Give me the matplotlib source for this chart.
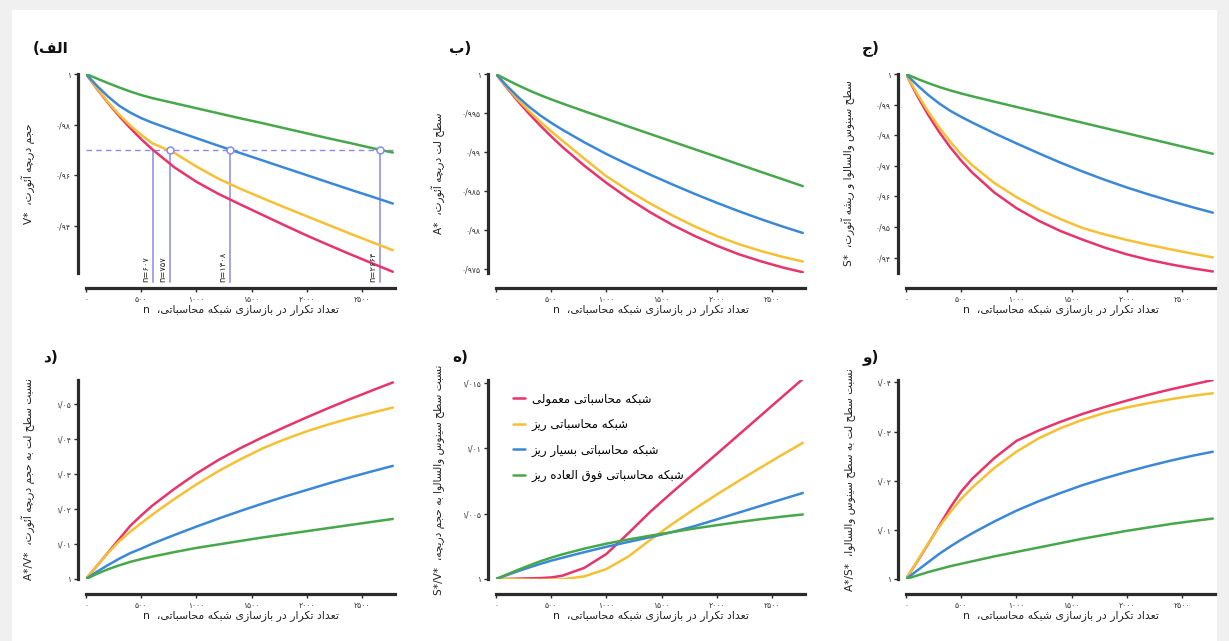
import numpy as np
import matplotlib
matplotlib.use("Agg")
import matplotlib.pyplot as plt
from matplotlib.patches import Rectangle

# ── داده‌ها (خوانده شده از شکل) ─────────────────────────────────────────────
n = [0, 100, 200, 300, 400, 500, 600, 800, 1000, 1200, 1400, 1600, 1800, 2000, 2200, 2400, 2600, 2780]

# الف) حجم دریچه آئورت V*
v_red = [1, 0.9941, 0.9886, 0.9834, 0.9787, 0.9743, 0.9703, 0.9632, 0.9575, 0.9527, 0.9485, 0.9444, 0.9403, 0.9363, 0.9325, 0.9288, 0.9252, 0.922]
v_yel = [1, 0.9943, 0.9889, 0.984, 0.9797, 0.976, 0.9727, 0.9689, 0.9635, 0.9587, 0.9547, 0.951, 0.9474, 0.9439, 0.9404, 0.9369, 0.9335, 0.9305]
v_blu = [1, 0.9953, 0.9911, 0.9875, 0.9848, 0.9826, 0.9808, 0.9777, 0.9747, 0.9717, 0.9688, 0.9659, 0.963, 0.9601, 0.9572, 0.9543, 0.9515, 0.9489]
v_grn = [1, 0.9982, 0.9964, 0.9947, 0.9931, 0.9917, 0.9905, 0.9885, 0.9865, 0.9845, 0.9825, 0.9806, 0.9786, 0.9766, 0.9746, 0.9727, 0.9707, 0.969]

# ب) سطح لت دریچه A*
a_red = [1, 0.9982, 0.9965, 0.9949, 0.9934, 0.992, 0.99067, 0.98825, 0.98605, 0.98405, 0.98225, 0.98065, 0.97925, 0.978, 0.9769, 0.976, 0.9752, 0.9746]
a_yel = [1, 0.9983, 0.9967, 0.99525, 0.9939, 0.99265, 0.99148, 0.98915, 0.9869, 0.98506, 0.98338, 0.98186, 0.98048, 0.97924, 0.9782, 0.97732, 0.97656, 0.97597]
a_blu = [1, 0.99845, 0.99705, 0.9958, 0.9947, 0.99375, 0.99287, 0.99125, 0.98975, 0.98838, 0.98708, 0.98584, 0.98464, 0.9835, 0.98242, 0.9814, 0.98044, 0.97963]
a_grn = [1, 0.99925, 0.99855, 0.9979, 0.9973, 0.99675, 0.99623, 0.99523, 0.99425, 0.99327, 0.9923, 0.99133, 0.99036, 0.9894, 0.98843, 0.98746, 0.9865, 0.98563]

# ج) سطح سینوس و ریشه S*
s_red = [1, 0.993, 0.9867, 0.9811, 0.9761, 0.9717, 0.9678, 0.9613, 0.9562, 0.9521, 0.9487, 0.9459, 0.9433, 0.9411, 0.9393, 0.9378, 0.9365, 0.9355]
s_yel = [1, 0.9936, 0.9878, 0.9826, 0.9779, 0.9737, 0.9702, 0.9644, 0.9598, 0.9559, 0.9526, 0.9497, 0.9476, 0.9458, 0.9442, 0.9427, 0.9413, 0.9401]
s_blu = [1, 0.9964, 0.9932, 0.9904, 0.988, 0.986, 0.98415, 0.98065, 0.97735, 0.97415, 0.97105, 0.96815, 0.96545, 0.96295, 0.96065, 0.95849, 0.95645, 0.95471]
s_grn = [1, 0.99845, 0.99705, 0.99578, 0.99465, 0.99365, 0.99272, 0.99096, 0.98924, 0.98752, 0.9858, 0.98408, 0.98236, 0.98064, 0.97892, 0.9772, 0.97548, 0.97393]

# د) A*/V*
av_red = [1, 1.0038, 1.0076, 1.0114, 1.0152, 1.0182, 1.021, 1.0258, 1.0302, 1.0341, 1.0375, 1.0406, 1.0435, 1.0463, 1.049, 1.0516, 1.0541, 1.0563]
av_yel = [1, 1.0038, 1.0075, 1.0108, 1.0135, 1.016, 1.0184, 1.0229, 1.0271, 1.0309, 1.0343, 1.0374, 1.04, 1.0423, 1.0443, 1.0461, 1.0477, 1.0491]
av_blu = [1, 1.0021, 1.004, 1.0058, 1.0074, 1.0087, 1.0101, 1.0126, 1.015, 1.0173, 1.0195, 1.0216, 1.0236, 1.0255, 1.0274, 1.0292, 1.0309, 1.0324]
av_grn = [1, 1.0015, 1.0028, 1.0039, 1.0049, 1.0057, 1.0064, 1.0077, 1.0089, 1.0099, 1.0109, 1.0119, 1.0128, 1.0137, 1.0146, 1.0155, 1.0164, 1.0172]

# ه) S*/V*
sv_red = [1, 1.00001, 1.00003, 1.00005, 1.00007, 1.00012, 1.00025, 1.00085, 1.00191, 1.0035, 1.00515, 1.00665, 1.0081, 1.00955, 1.01102, 1.01249, 1.01396, 1.01528]
sv_yel = [1, 0.99999, 0.99997, 0.99995, 0.99994, 0.99995, 0.99998, 1.0002, 1.00076, 1.00172, 1.003, 1.00422, 1.00536, 1.00645, 1.0075, 1.00852, 1.00952, 1.0104]
sv_blu = [1, 1.0003, 1.0006, 1.00088, 1.00115, 1.0014, 1.00162, 1.00205, 1.00246, 1.00283, 1.0032, 1.00359, 1.00404, 1.00455, 1.00507, 1.00559, 1.00611, 1.00657]
sv_grn = [1, 1.00035, 1.0007, 1.00103, 1.00135, 1.00163, 1.00188, 1.00232, 1.0027, 1.00302, 1.00331, 1.00359, 1.00386, 1.00411, 1.00435, 1.00457, 1.00477, 1.00493]

# و) A*/S*
as_red = [1, 1.0035, 1.0071, 1.0108, 1.0145, 1.0178, 1.0204, 1.0246, 1.0281, 1.0302, 1.032, 1.0336, 1.035, 1.0363, 1.0375, 1.0386, 1.0396, 1.0405]
as_yel = [1, 1.0036, 1.0072, 1.0106, 1.0136, 1.0163, 1.0186, 1.0226, 1.0259, 1.0286, 1.0307, 1.0324, 1.0338, 1.0349, 1.0358, 1.0366, 1.0373, 1.0378]
as_blu = [1, 1.0017, 1.0034, 1.0051, 1.0066, 1.008, 1.0093, 1.0117, 1.0139, 1.0158, 1.0175, 1.0191, 1.0205, 1.0218, 1.023, 1.0241, 1.0251, 1.0259]
as_grn = [1, 1.0007, 1.0014, 1.002, 1.0026, 1.0031, 1.0036, 1.0046, 1.0055, 1.0064, 1.0073, 1.0082, 1.009, 1.0098, 1.0105, 1.0112, 1.0118, 1.0123]

# خط‌های راهنما در نمودار الف
v_level = 0.97
n_cross = [607, 757, 1308, 2664]
n_cross_lbl = ["۶۰۷", "۷۵۷", "۱۳۰۸", "۲۶۶۴"]

series_names = ["شبکه محاسباتی معمولی", "شبکه محاسباتی ریز",
                "شبکه محاسباتی بسیار ریز", "شبکه محاسباتی فوق العاده ریز"]
colors = ["#e8336b", "#f7c033", "#3b88d8", "#46a84a"]

# ── شکل‌دهی ساده متن فارسی (matplotlib حروف را به هم نمی‌چسباند) ───────────
FORMS = {
    'ا': ('\uFE8D', '\uFE8E', None, None), 'آ': ('\uFE81', '\uFE82', None, None),
    'ئ': ('\uFE89', '\uFE8A', '\uFE8B', '\uFE8C'), 'ب': ('\uFE8F', '\uFE90', '\uFE91', '\uFE92'),
    'ت': ('\uFE95', '\uFE96', '\uFE97', '\uFE98'), 'ج': ('\uFE9D', '\uFE9E', '\uFE9F', '\uFEA0'),
    'ح': ('\uFEA1', '\uFEA2', '\uFEA3', '\uFEA4'), 'چ': ('\uFB7A', '\uFB7B', '\uFB7C', '\uFB7D'),
    'د': ('\uFEA9', '\uFEAA', None, None), 'ر': ('\uFEAD', '\uFEAE', None, None),
    'ز': ('\uFEAF', '\uFEB0', None, None), 'س': ('\uFEB1', '\uFEB2', '\uFEB3', '\uFEB4'),
    'ش': ('\uFEB5', '\uFEB6', '\uFEB7', '\uFEB8'), 'ط': ('\uFEC1', '\uFEC2', '\uFEC3', '\uFEC4'),
    'ع': ('\uFEC9', '\uFECA', '\uFECB', '\uFECC'), 'ف': ('\uFED1', '\uFED2', '\uFED3', '\uFED4'),
    'ق': ('\uFED5', '\uFED6', '\uFED7', '\uFED8'), 'ک': ('\uFB8E', '\uFB8F', '\uFB90', '\uFB91'),
    'ل': ('\uFEDD', '\uFEDE', '\uFEDF', '\uFEE0'), 'م': ('\uFEE1', '\uFEE2', '\uFEE3', '\uFEE4'),
    'ن': ('\uFEE5', '\uFEE6', '\uFEE7', '\uFEE8'), 'ه': ('\uFEE9', '\uFEEA', '\uFEEB', '\uFEEC'),
    'و': ('\uFEED', '\uFEEE', None, None), 'ی': ('\uFBFC', '\uFBFD', '\uFBFE', '\uFBFF'),
}


def fa(text, ltr_prefix=""):
    out = []
    for i, ch in enumerate(text):
        if ch not in FORMS:
            out.append(ch)
            continue
        prev = text[i - 1] if i > 0 else ""
        nxt = text[i + 1] if i + 1 < len(text) else ""
        jp = prev in FORMS and FORMS[prev][2] is not None
        jn = nxt in FORMS and FORMS[ch][2] is not None
        f = FORMS[ch]
        out.append(f[3] if jp and jn else f[1] if jp else f[2] if jn else f[0])
    return ltr_prefix + "".join(out)[::-1]


DIG = str.maketrans("0123456789.", "۰۱۲۳۴۵۶۷۸۹/")


def fa_num(v, d):
    s = f"{v:.{d}f}".rstrip("0").rstrip(".") if d else f"{v:.0f}"
    return s.translate(DIG)


plt.rcParams["font.family"] = ["DejaVu Sans"]

xlab = fa("تعداد تکرار در بازسازی شبکه محاسباتی، ", "n ")
panels = [
    ("الف", [v_red, v_yel, v_blu, v_grn], (0.9215, 1.0), [0.94, 0.96, 0.98, 1.0], 2,
     fa("حجم دریچه آئورت، ", "V* ")),
    ("ب", [a_red, a_yel, a_blu, a_grn], (0.9745, 1.0), [0.975, 0.98, 0.985, 0.99, 0.995, 1.0], 3,
     fa("سطح لت دریچه آئورت، ", "A* ")),
    ("ج", [s_red, s_yel, s_blu, s_grn], (0.935, 1.0), [0.94, 0.95, 0.96, 0.97, 0.98, 0.99, 1.0], 2,
     fa("سطح سینوس والسالوا و ریشه آئورت، ", "S* ")),
    ("د", [av_red, av_yel, av_blu, av_grn], (1.0, 1.057), [1.0, 1.01, 1.02, 1.03, 1.04, 1.05], 2,
     fa("نسبت سطح لت به حجم دریچه آئورت، ", "A*/V* ")),
    ("ه", [sv_red, sv_yel, sv_blu, sv_grn], (1.0, 1.0152), [1.0, 1.005, 1.01, 1.015], 3,
     fa("نسبت سطح سینوس والسالوا به حجم دریچه، ", "S*/V* ")),
    ("و", [as_red, as_yel, as_blu, as_grn], (1.0, 1.0405), [1.0, 1.01, 1.02, 1.03, 1.04], 2,
     fa("نسبت سطح لت به سطح سینوس والسالوا، ", "A*/S* ")),
]

W, H = 1229, 641
fig = plt.figure(figsize=(W / 100, H / 100), dpi=100)
fig.patch.set_facecolor("#f0f0f0")
fig.patches.append(Rectangle((12 / W, 0), 1 - 24 / W, 1 - 10 / H, transform=fig.transFigure,
                             facecolor="white", edgecolor="none", zorder=-10))

lefts = [86, 496, 906]
tops = [74, 380]
aw, ah = 309, 199
xticks = [0, 500, 1000, 1500, 2000, 2500]

axes = []
for k, (lbl, ys, ylim, yt, dec, ylab) in enumerate(panels):
    r, c = divmod(k, 3)
    ax = fig.add_axes([lefts[c] / W, 1 - (tops[r] + ah) / H, aw / W, ah / H])
    ax.patch.set_alpha(0)
    for y, col in zip(ys, colors):
        ax.plot(n, y, color=col, lw=1.8, solid_capstyle="round", solid_joinstyle="round")
    ax.set_xlim(0, 2800)
    ax.set_ylim(*ylim)
    ax.set_xticks(xticks)
    ax.set_xticklabels([fa_num(t, 0) for t in xticks])
    ax.set_yticks(yt)
    ax.set_yticklabels([fa_num(t, dec) for t in yt])
    for s in ["top", "right"]:
        ax.spines[s].set_visible(False)
    ax.spines["left"].set_position(("outward", 6))
    ax.spines["bottom"].set_position(("outward", 11))
    for s in ["left", "bottom"]:
        ax.spines[s].set_linewidth(2.3)
        ax.spines[s].set_color("#2b2b2b")
    ax.tick_params(length=3, width=1, color="#2b2b2b", labelsize=5.5, labelcolor="#333333", pad=2)
    ax.set_xlabel(xlab, fontsize=7.8, color="#222222")
    ax.xaxis.set_label_coords(0.5, -0.16)
    ax.set_ylabel(ylab, fontsize=7.6, color="#222222")
    ax.yaxis.set_label_coords(-0.165, 0.5)
    ax.text(-0.115, 1.13 if r == 0 else 1.115, lbl + ")" if k else "(" + fa(lbl),
            transform=ax.transAxes, ha="center", va="center",
            fontsize=11, fontweight="bold", color="#111111")
    axes.append(ax)

# خط‌های راهنما در الف
ax = axes[0]
guide = "#8a8ae8"
ax.plot([0, n[-1]], [v_level, v_level], ls=(0, (4, 3)), color=guide, lw=1.0, zorder=1)
y0 = ax.get_ylim()[0]
for i, (xc, t) in enumerate(zip(n_cross, n_cross_lbl)):
    ax.plot([xc, xc], [v_level, y0 - 0.0035], color=guide, lw=1.1, clip_on=False, zorder=1)
    if i > 0:
        ax.plot(xc, v_level, "o", mfc="white", mec=guide, ms=5, mew=1.1, zorder=5)
    ax.text(xc - 25, y0 - 0.0035, "n=" + t, rotation=90, ha="right", va="bottom",
            fontsize=6, color="#222222")

# راهنما در ه
axes[4].legend([fa(s) for s in series_names], loc="upper left", bbox_to_anchor=(0.02, 0.99),
               frameon=False, fontsize=8.5, handlelength=1.0, handletextpad=0.6,
               labelspacing=1.05)

plt.savefig("out.png", dpi=100, facecolor=fig.get_facecolor())
